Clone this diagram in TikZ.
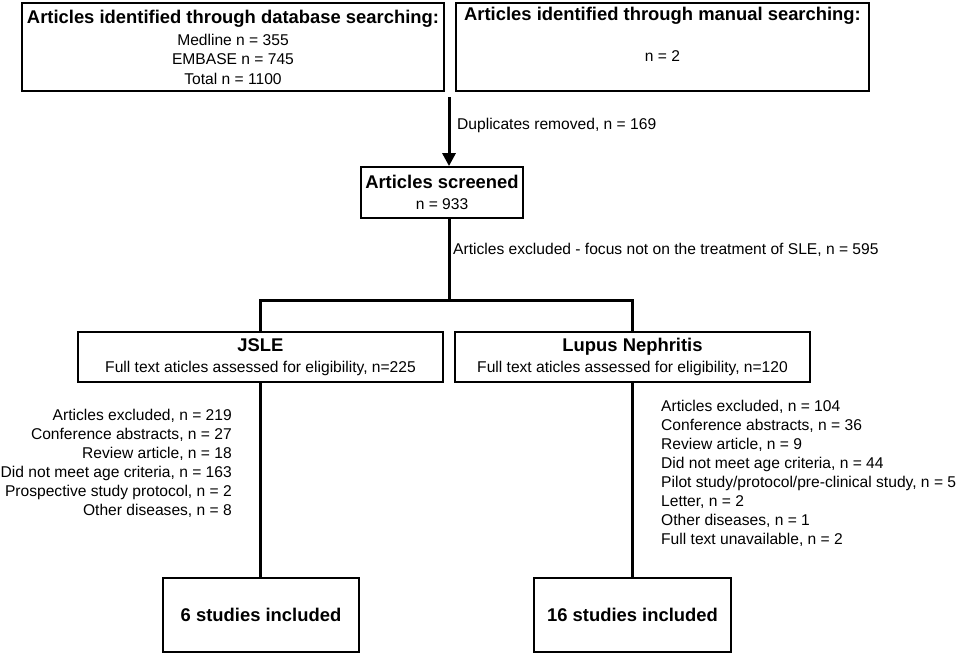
\documentclass[tikz,border=0pt]{standalone}
\usepackage{fontspec}
\setmainfont{Liberation Sans}
\usetikzlibrary{arrows.meta,positioning}
\tikzstyle{box}=[draw,line width=1.8pt,inner sep=0pt,align=center,font=\fontsize{15.6}{19.5}\selectfont]
\tikzstyle{note}=[inner sep=0pt,font=\fontsize{15.6}{19}\selectfont]
\tikzstyle{edge}=[draw,line width=3pt]
\tikzstyle{arrow}=[edge,-{Triangle[width=13pt,length=13pt]}]
\newcommand{\hd}[1]{{\fontsize{18.4}{22}\selectfont\bfseries #1}}

\begin{document}
\begin{tikzpicture}[x=1pt,y=-1pt]
        \useasboundingbox (0,0) rectangle (957,654);
        \node[box,minimum width=422pt,minimum height=88pt] (db) at (233,47)
          {\hd{Articles identified through database searching:}\\[2.5pt]
           Medline n = 355\\ EMBASE n = 745\\ Total n = 1100};
        \node[box,minimum width=413pt,minimum height=88pt] (man) at (662.5,47)
          {\hd{Articles identified through manual searching:}\\[2.5pt]
           \strut\\ n = 2\\ \strut};
        \node[box,minimum width=162pt,minimum height=51pt] (scr) at (442,192.5)
          {\hd{Articles screened}\\[1.5pt] n = 933};
        \node[box,minimum width=365pt,minimum height=50pt] (jsle) at (260.5,357)
          {\hd{JSLE}\\[1.5pt] Full text aticles assessed for eligibility, n=225};
        \node[box,minimum width=355pt,minimum height=50pt] (ln) at (632.5,357)
          {\hd{Lupus Nephritis}\\[1.5pt] Full text aticles assessed for eligibility, n=120};
        \node[box,minimum width=196pt,minimum height=74pt] (inc1) at (261,615)
          {\hd{6 studies included}};
        \node[box,minimum width=197pt,minimum height=74pt] (inc2) at (632.5,615)
          {\hd{16 studies included}};
        \node[note,anchor=west] (dup) at (457,125) {Duplicates removed, n = 169};
        \node[note,anchor=west] (exsle) at (453,250)
          {Articles excluded - focus not on the treatment of SLE, n = 595};
        \node[note,anchor=east,align=right] (ex1) at (232,463)
          {Articles excluded, n = 219\\ Conference abstracts, n = 27\\
           Review article, n = 18\\ Did not meet age criteria, n = 163\\
           Prospective study protocol, n = 2\\ Other diseases, n = 8};
        \node[note,anchor=west,align=left] (ex2) at (661,473.5)
          {Articles excluded, n = 104\\ Conference abstracts, n = 36\\
           Review article, n = 9\\ Did not meet age criteria, n = 44\\
           Pilot study/protocol/pre-clinical study, n = 5\\ Letter, n = 2\\
           Other diseases, n = 1\\ Full text unavailable, n = 2};
        \coordinate (a0) at (449,97);
        \coordinate (j0) at (449,300);
        \draw[arrow] (a0) to (a0 |- scr.north);
        \draw[edge] (j0 |- scr.south) to (j0);
        \draw[edge] (jsle.north) |- (j0) -| (ln.north);
        \draw[edge] (jsle.south) to (jsle.south |- inc1.north);
        \draw[edge] (ln.south) to (ln.south |- inc2.north);
      \end{tikzpicture}
\end{document}
